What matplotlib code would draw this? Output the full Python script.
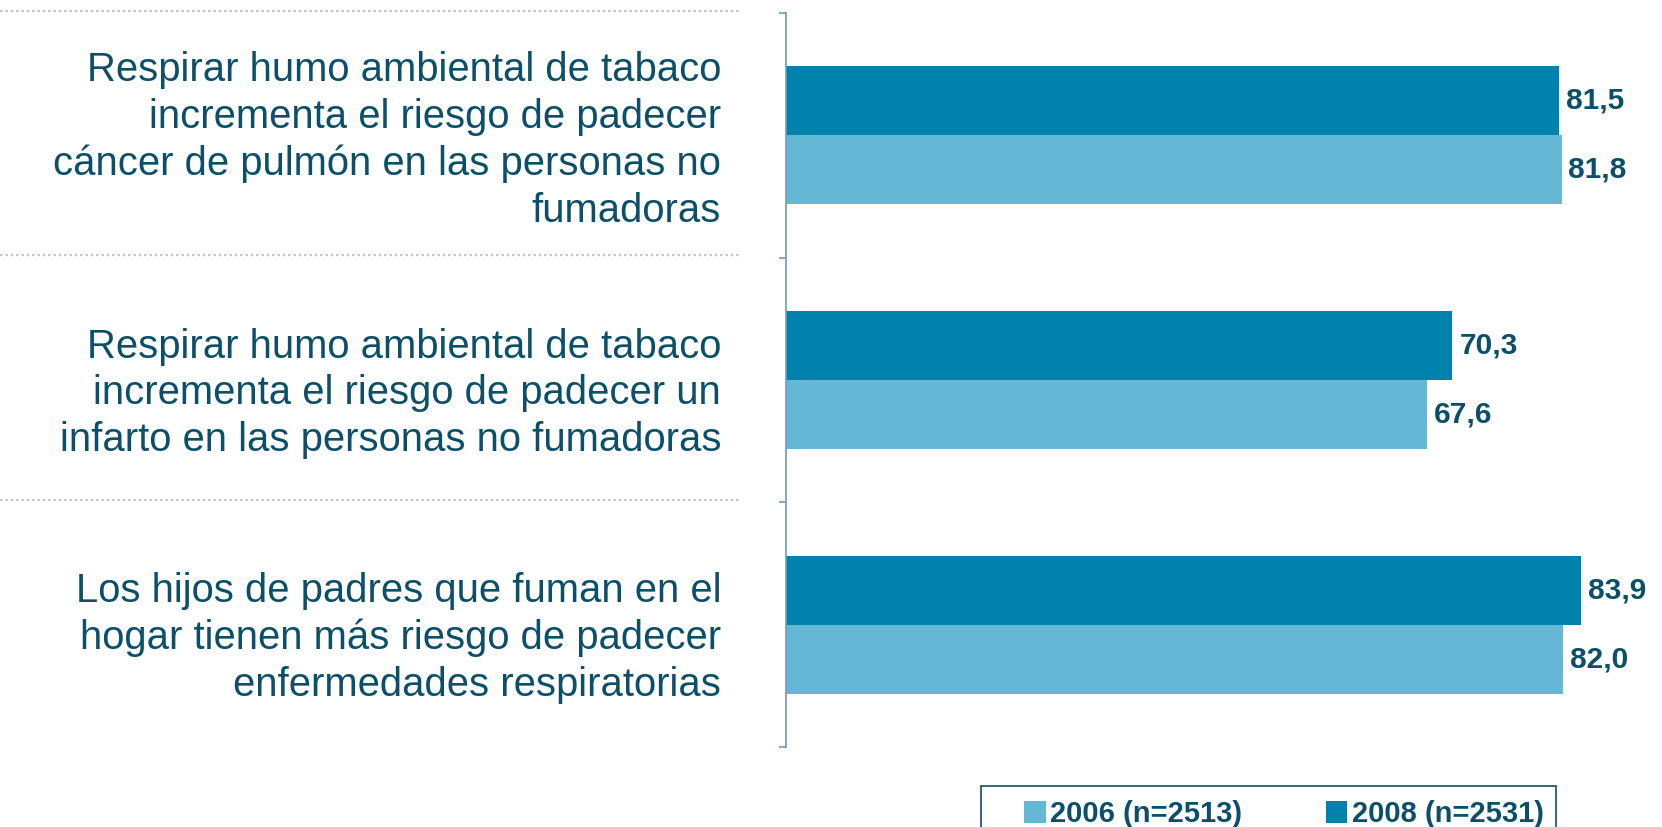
import matplotlib
matplotlib.use("Agg")
import matplotlib.pyplot as plt
import matplotlib.transforms as mtransforms
from matplotlib.lines import Line2D
from matplotlib.patches import Rectangle
import numpy as np

plt.rcParams['font.family'] = ['Liberation Sans', 'DejaVu Sans']

categories = [
    "Respirar humo ambiental de tabaco\nincrementa el riesgo de padecer\ncáncer de pulmón en las personas no\nfumadoras",
    "Respirar humo ambiental de tabaco\nincrementa el riesgo de padecer un\ninfarto en las personas no fumadoras",
    "Los hijos de padres que fuman en el\nhogar tienen más riesgo de padecer\nenfermedades respiratorias",
]
values_2006 = [81.8, 67.6, 82.0]
values_2008 = [81.5, 70.3, 83.9]
series_labels = ["2006 (n=2513)", "2008 (n=2531)"]

c2006 = "#65B7D6"
c2008 = "#0082AD"
text_color = "#0C4F68"
spine_color = "#6F9DB6"

W, H = 1662, 827
fig = plt.figure(figsize=(W / 100, H / 100), dpi=100)
ax = fig.add_axes([786 / W, 1 - 747 / H, 1 - 786 / W, (747 - 13) / H])

y = np.arange(len(categories))
h = 0.282
b08 = ax.barh(y - h / 2, values_2008, height=h, color=c2008, label=series_labels[1])
b06 = ax.barh(y + h / 2, values_2006, height=h, color=c2006, label=series_labels[0])

ax.set_xlim(0, 92.4)
ax.set_ylim(len(categories) - 0.5, -0.5)

for bars, vals in ((b08, values_2008), (b06, values_2006)):
    for bar, v in zip(bars, vals):
        ax.annotate(f"{v:.1f}".replace(".", ","),
                    (v, bar.get_y() + bar.get_height() / 2),
                    xytext=(5, 0), textcoords="offset points",
                    ha="left", va="center", fontsize=21.5,
                    fontweight="bold", color=text_color)

# category labels, right aligned next to the axis
blend = mtransforms.blended_transform_factory(fig.transFigure, ax.transData)
label_offsets = [0.022, 0.055, 0.055]
for i, (lab, off) in enumerate(zip(categories, label_offsets)):
    ax.text(721 / W, i + off, lab, transform=blend, ha="right", va="center",
            fontsize=28.8, color=text_color, linespacing=1.29)

# dotted separators
for yb in np.arange(-0.5, len(categories) - 0.5):
    ln = Line2D([0, 739 / W], [yb - 0.01, yb - 0.01], transform=blend,
                color="#C8C8C8", linestyle=(0, (1.2, 1.2)), linewidth=1.6)
    fig.add_artist(ln)

# axes styling
for side in ("top", "right", "bottom"):
    ax.spines[side].set_visible(False)
ax.spines["left"].set_color(spine_color)
ax.spines["left"].set_linewidth(1.2)
ax.set_xticks([])
ax.set_yticks(np.arange(-0.5, len(categories)))
ax.set_yticklabels([])
ax.tick_params(axis="y", length=5, color=spine_color, width=1.2)

# legend box (cut by the bottom edge) and entries
fig.add_artist(Rectangle((981 / W, -0.05), (1556 - 981) / W, 0.05 + 1 - 786 / H,
                         transform=fig.transFigure, facecolor="none",
                         edgecolor=text_color, linewidth=1.2))
leg = fig.legend(handles=[b06, b08], labels=series_labels, loc="center left",
                 bbox_to_anchor=(1024 / W, 1 - 814 / H), ncol=2, frameon=False,
                 fontsize=21, handlelength=0.75, handleheight=0.75,
                 handletextpad=0.15, borderpad=0, borderaxespad=0,
                 columnspacing=2.85)
for t in leg.get_texts():
    t.set_color(text_color)
    t.set_fontweight("bold")

fig.savefig("out.png", dpi=100)
